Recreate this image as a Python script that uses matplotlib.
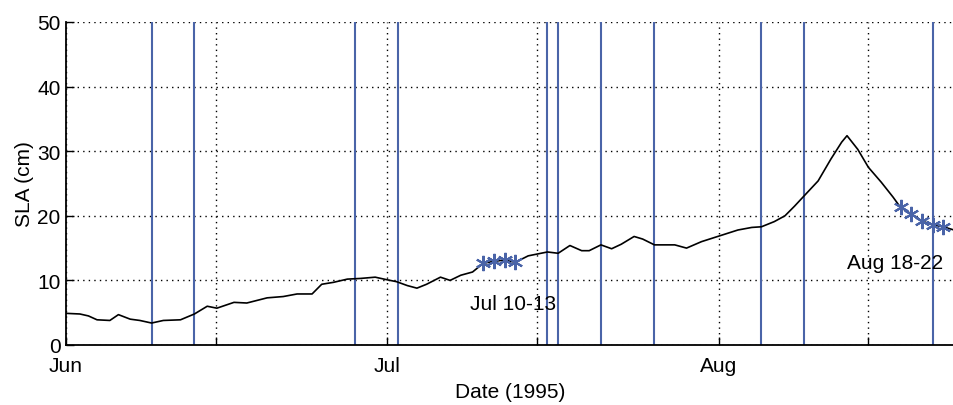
import matplotlib
matplotlib.use('Agg')
import matplotlib.pyplot as plt
import matplotlib.dates as mdates
from datetime import datetime
import numpy as np

plt.rcParams['font.family'] = ['Liberation Sans', 'DejaVu Sans']

# days since 1995-06-01 and SLA (cm)
sla_days = [0, 1.3, 2.1, 2.9, 4.1, 4.9, 6.0, 6.9, 8.0, 9.1, 10.7, 12.0, 13.2, 14.1,
            15.7, 16.9, 18.8, 20.3, 21.6, 23.0, 23.9, 25.0, 26.3, 27.5, 28.9, 30.0,
            30.9, 31.9, 32.8, 33.7, 35.0, 35.9, 36.9, 38.0, 39.0, 40.0, 41.0, 42.0,
            43.2, 45.0, 46.0, 47.1, 48.2, 48.9, 50.0, 51.0, 51.9, 53.1, 53.9, 55.0,
            56.9, 58.0, 59.4, 61.1, 62.8, 64.1, 65.0, 66.2, 67.2, 68.1, 69.0, 70.3,
            71.5, 72.5, 73.0, 74.0, 75.0, 76.2, 77.3, 78.0, 79.0, 80.0, 81.0, 82.0, 83.0]
sla_vals = [4.9, 4.8, 4.5, 3.9, 3.8, 4.7, 4.0, 3.8, 3.4, 3.8, 3.9, 4.8, 6.0, 5.7,
            6.6, 6.5, 7.3, 7.5, 7.9, 7.9, 9.4, 9.7, 10.2, 10.3, 10.5, 10.1,
            9.8, 9.2, 8.8, 9.4, 10.5, 10.0, 10.8, 11.3, 12.65, 12.95, 13.15, 12.8,
            13.8, 14.4, 14.2, 15.4, 14.6, 14.6, 15.5, 14.9, 15.6, 16.8, 16.4, 15.5,
            15.5, 15.0, 16.0, 16.9, 17.8, 18.2, 18.3, 19.1, 20.0, 21.5, 23.1, 25.4,
            28.8, 31.4, 32.4, 30.3, 27.5, 25.2, 22.9, 21.3, 20.3, 19.2, 18.6, 18.3, 17.8]

# vertical blue lines (days since 1995-06-01)
event_days = [8, 12, 27, 31, 45, 46, 50, 55, 65, 69, 81]

jul_star_days = [39, 40, 41, 42]
jul_star_vals = [12.65, 12.95, 13.15, 12.8]
aug_star_days = [78, 79, 80, 81, 82]
aug_star_vals = [21.3, 20.3, 19.2, 18.6, 18.3]

tick_days = [0, 14, 30, 44, 61, 75]
tick_labels = ['Jun', '', 'Jul', '', 'Aug', '']

t0 = mdates.date2num(datetime(1995, 6, 1))
blue = '#4a64a8'

fig = plt.figure(figsize=(9.54, 4.06), dpi=100)
ax = fig.add_axes([66/954, 60/406, 1 - 66/954, 323/406])

for d in event_days:
    ax.axvline(t0 + d, color=blue, lw=1.5, zorder=2)

ax.plot(t0 + np.array(sla_days), sla_vals, color='black', lw=1.2, zorder=3)
ax.plot(t0 + np.array(jul_star_days), jul_star_vals, ls='none', marker=(6, 2, 0),
        ms=11, mec=blue, mew=1.5, zorder=4)
ax.plot(t0 + np.array(aug_star_days), aug_star_vals, ls='none', marker=(6, 2, 0),
        ms=11, mec=blue, mew=1.5, zorder=4)

ax.text(t0 + 37.8, 6.5, 'Jul 10-13', fontsize=15, va='center', ha='left')
ax.text(t0 + 73.0, 12.7, 'Aug 18-22', fontsize=15, va='center', ha='left')

ax.set_xlim(t0, t0 + 83)
ax.set_ylim(0, 50)
ax.set_xticks([t0 + d for d in tick_days])
ax.set_xticklabels(tick_labels)
ax.set_yticks([0, 10, 20, 30, 40, 50])
ax.tick_params(direction='in', length=6, width=1, labelsize=15)
ax.tick_params(axis='x', pad=8)
ax.tick_params(axis='y', pad=4)
ax.grid(True, color='black', ls=(0, (1, 3)), lw=1)
ax.set_axisbelow(True)
for s in ['top', 'right']:
    ax.spines[s].set_visible(False)
ax.spines['left'].set_linewidth(1.3)
ax.spines['bottom'].set_linewidth(1.3)

ax.set_xlabel('Date (1995)', fontsize=15, labelpad=5)
ax.set_ylabel('SLA (cm)', fontsize=15, labelpad=2)

fig.savefig('out.png', dpi=100)
